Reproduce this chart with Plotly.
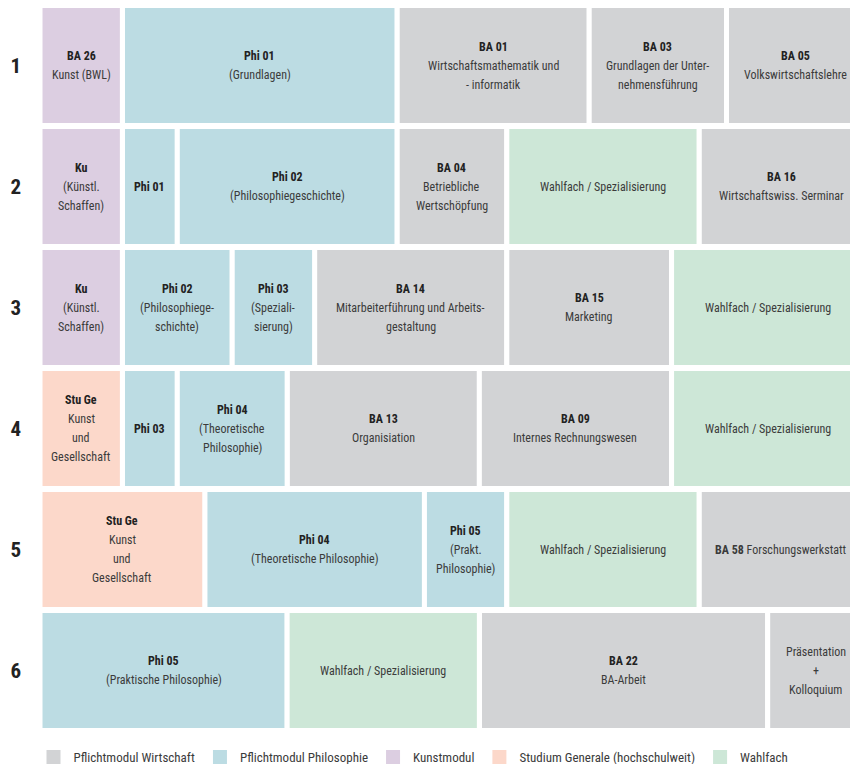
import plotly.graph_objects as go

# ---------------- data ----------------
semesters = ["1", "2", "3", "4", "5", "6"]

sem1_codes = ["BA 26", "Phi 01", "BA 01", "BA 03", "BA 05"]
sem1_names = ["Kunst (BWL)", "(Grundlagen)", "Wirtschaftsmathematik und<br>- informatik",
              "Grundlagen der Unter-<br>nehmensführung", "Volkswirtschaftslehre"]
sem1_types = ["K", "P", "W", "W", "W"]
sem1_ects = [3, 10, 7, 5, 5]

sem2_codes = ["Ku", "Phi 01", "Phi 02", "BA 04", "", "BA 16"]
sem2_names = ["(Künstl.<br>Schaffen)", "", "(Philosophiegeschichte)", "Betriebliche<br>Wertschöpfung",
              "Wahlfach / Spezialisierung", "Wirtschaftswiss. Serminar"]
sem2_types = ["K", "P", "P", "W", "F", "W"]
sem2_ects = [3, 2, 8, 4, 7, 6]

sem3_codes = ["Ku", "Phi 02", "Phi 03", "BA 14", "BA 15", ""]
sem3_names = ["(Künstl.<br>Schaffen)", "(Philosophiege-<br>schichte)", "(Speziali-<br>sierung)",
              "Mitarbeiterführung und Arbeits-<br>gestaltung", "Marketing", "Wahlfach / Spezialisierung"]
sem3_types = ["K", "P", "P", "W", "W", "F"]
sem3_ects = [3, 4, 3, 7, 6, 7]

sem4_codes = ["Stu Ge", "Phi 03", "Phi 04", "BA 13", "BA 09", ""]
sem4_names = ["Kunst<br>und<br>Gesellschaft", "", "(Theoretische<br>Philosophie)", "Organisiation",
              "Internes Rechnungswesen", "Wahlfach / Spezialisierung"]
sem4_types = ["S", "P", "P", "W", "W", "F"]
sem4_ects = [3, 2, 4, 7, 7, 7]

sem5_codes = ["Stu Ge", "Phi 04", "Phi 05", "", "BA 58"]
sem5_names = ["Kunst<br>und<br>Gesellschaft", "(Theoretische Philosophie)", "(Prakt.<br>Philosophie)",
              "Wahlfach / Spezialisierung", "Forschungswerkstatt"]
sem5_types = ["S", "P", "P", "F", "W"]
sem5_ects = [6, 8, 3, 7, 6]

sem6_codes = ["Phi 05", "", "BA 22", ""]
sem6_names = ["(Praktische Philosophie)", "Wahlfach / Spezialisierung", "BA-Arbeit",
              "Präsentation<br>+<br>Kolloquium"]
sem6_types = ["P", "F", "W", "W"]
sem6_ects = [9, 7, 10.5, 3.5]

inline_codes = ["BA 58"]  # code and name on one line

type_keys = ["W", "P", "K", "S", "F"]
type_names = ["Pflichtmodul Wirtschaft", "Pflichtmodul Philosophie", "Kunstmodul",
              "Studium Generale (hochschulweit)", "Wahlfach"]
type_colors = ["#d2d3d5", "#bcdce3", "#dccee1", "#fcd8ca", "#cde7d7"]

# ---------------- build ----------------
sem_codes = [sem1_codes, sem2_codes, sem3_codes, sem4_codes, sem5_codes, sem6_codes]
sem_names = [sem1_names, sem2_names, sem3_names, sem4_names, sem5_names, sem6_names]
sem_types = [sem1_types, sem2_types, sem3_types, sem4_types, sem5_types, sem6_types]
sem_ects = [sem1_ects, sem2_ects, sem3_ects, sem4_ects, sem5_ects, sem6_ects]

FONT = "Roboto Condensed, Liberation Sans Narrow, Roboto, sans-serif"
TXT = "#3b3b3b"
BOLD = "#222222"

per_type = {k: {"x": [], "base": [], "y": []} for k in type_keys}
annotations = []
LINE = 19

for si, sem in enumerate(semesters):
    base = 0.0
    for code, name, typ, w in zip(sem_codes[si], sem_names[si], sem_types[si], sem_ects[si]):
        per_type[typ]["x"].append(w)
        per_type[typ]["base"].append(base)
        per_type[typ]["y"].append(sem)
        lines = []
        if code in inline_codes:
            lines.append((f"<b>{code}</b> {name}", TXT))
        else:
            if code:
                lines.append((f"<b>{code}</b>", BOLD))
            if name:
                lines.extend((t, TXT) for t in name.split("<br>"))
        n = len(lines)
        for i, (ln, col) in enumerate(lines):
            annotations.append(dict(
                x=base + w / 2, y=si, xref="x", yref="y", text=ln, showarrow=False,
                yshift=((n - 1) / 2 - i) * LINE,
                font=dict(family=FONT, size=12, color=col),
                xanchor="center", yanchor="middle",
            ))
        base += w

fig = go.Figure()
for k, nm, col in zip(type_keys, type_names, type_colors):
    d = per_type[k]
    fig.add_trace(go.Bar(
        x=d["x"], base=d["base"], y=d["y"], orientation="h", name=nm,
        marker=dict(color=col, line=dict(color="white", width=5)),
        hoverinfo="skip", showlegend=False,
    ))
# legend entries: plain squares
for nm, col in zip(type_names, type_colors):
    fig.add_trace(go.Scatter(
        x=[None], y=[None], mode="markers", name=nm,
        marker=dict(symbol="square", size=14, color=col), showlegend=True,
    ))

W, H = 850, 764
TOP, LEFT, BOTTOM = 5, 40, 33
unit_px = 27.46
plot_w = W - LEFT
fig.update_layout(
    width=W, height=H,
    margin=dict(l=LEFT, r=0, t=TOP, b=BOTTOM),
    barmode="overlay", bargap=0.01,
    plot_bgcolor="white", paper_bgcolor="white",
    xaxis=dict(range=[0, plot_w / unit_px], showgrid=False, zeroline=False,
               showticklabels=False, fixedrange=True, automargin=False),
    yaxis=dict(categoryorder="array", categoryarray=semesters, autorange="reversed",
               showgrid=False, zeroline=False, ticks="", ticklabelstandoff=18,
               automargin=False, tickprefix="<b>", ticksuffix="</b>",
               tickfont=dict(family=FONT, size=21, color="#222222"), fixedrange=True),
    legend=dict(orientation="h", xref="container", yref="container",
                x=33.5 / W, xanchor="left", y=7 / H, yanchor="middle",
                bgcolor="rgba(0,0,0,0)",
                font=dict(family=FONT, size=13, color="#3b3b3b"),
                itemclick=False, itemdoubleclick=False, traceorder="normal"),
    annotations=annotations,
    showlegend=True,
)

fig.write_html("out.html", config={"displayModeBar": False},
               post_script="document.body.style.margin='0px';")
